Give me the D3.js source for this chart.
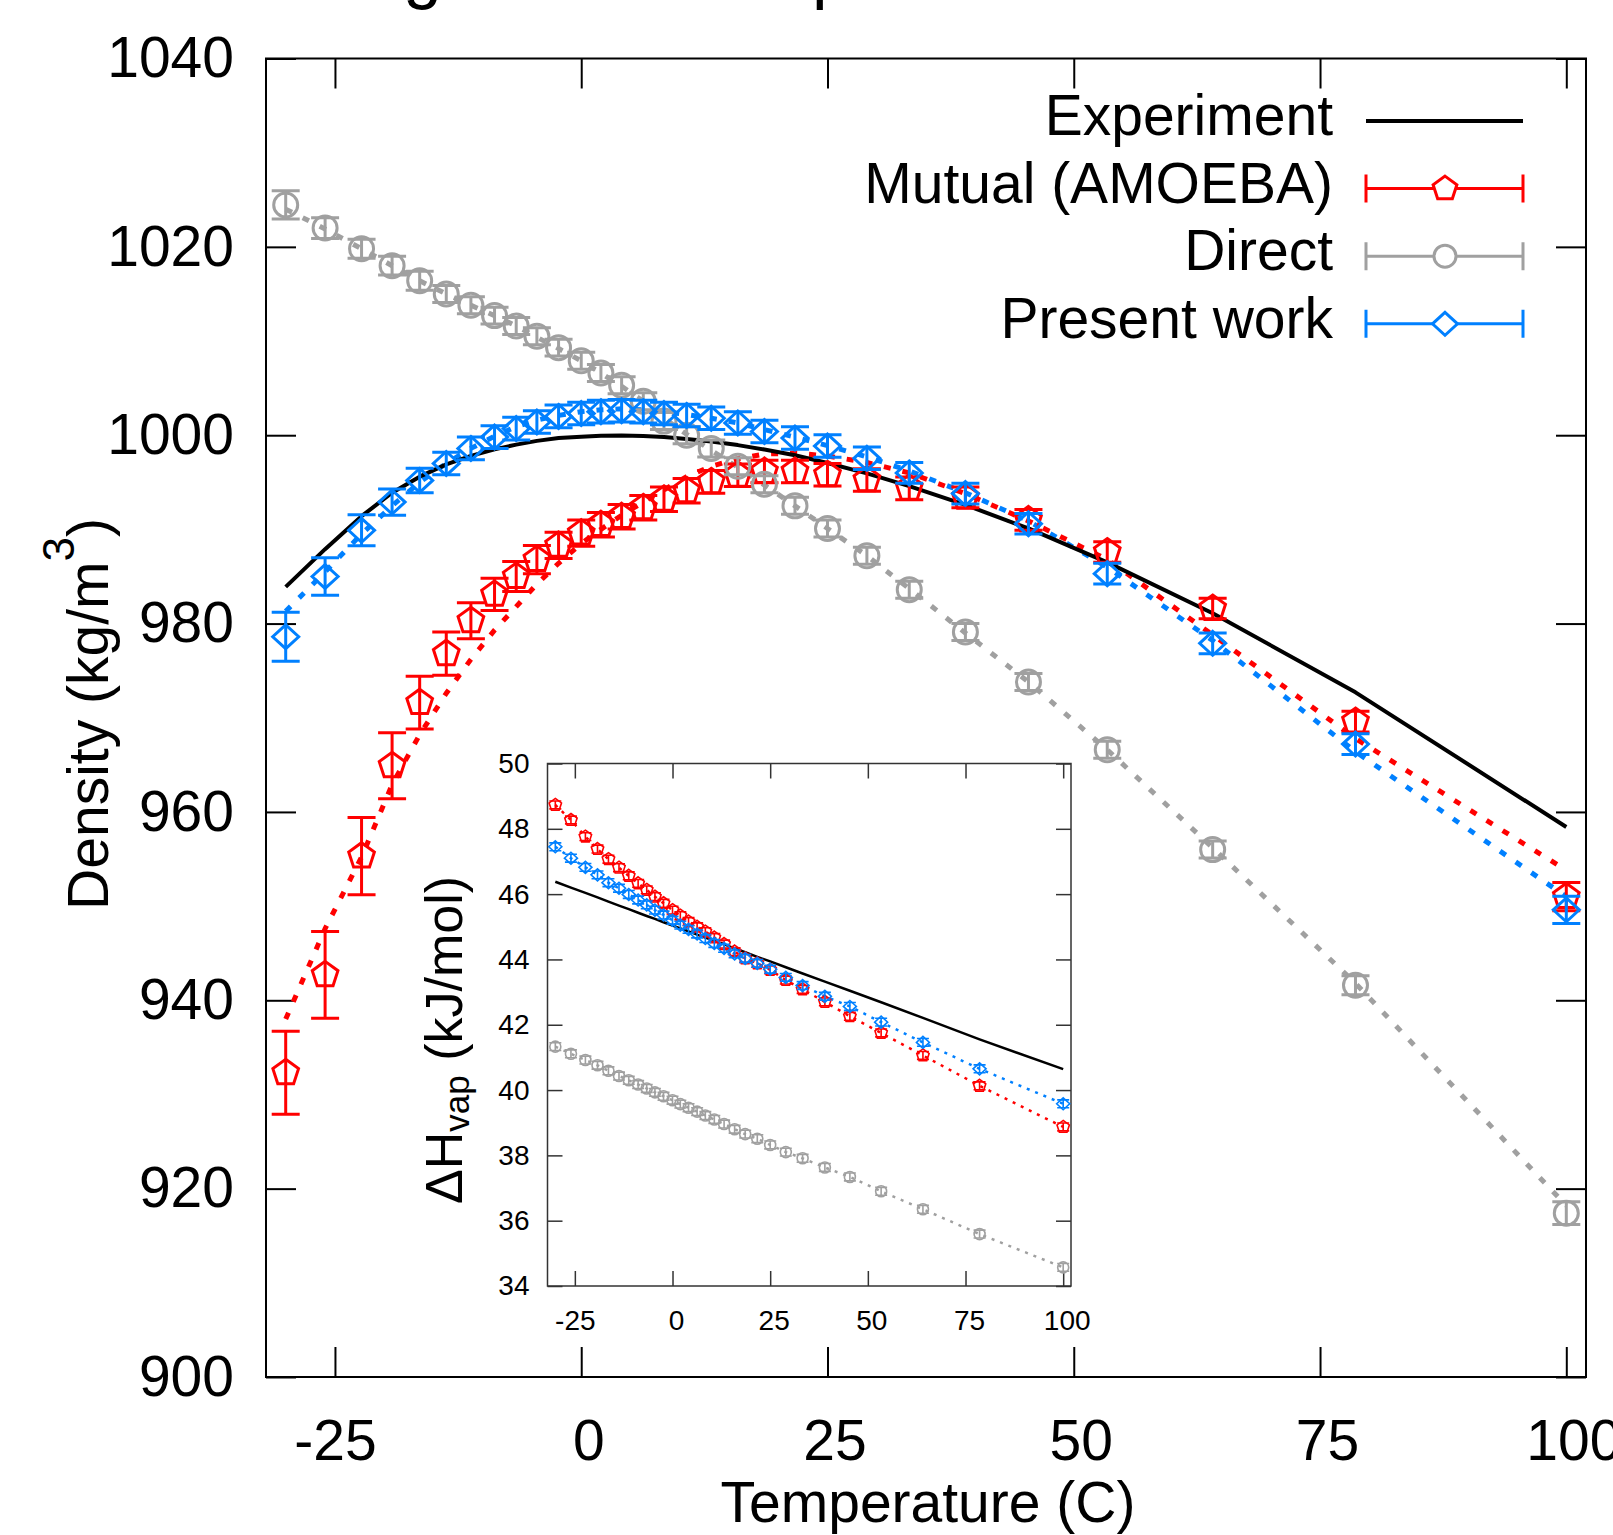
<!DOCTYPE html>
<html>
<head>
<meta charset="utf-8">
<script src="https://cdn.jsdelivr.net/npm/d3@7"></script>
<style>
  body { margin: 0; background: #fff; }
  text { font-family: "Liberation Sans", Arial, Helvetica, sans-serif; }
</style>
</head>
<body>
<div id="chart"></div>
<script>
// simulation temperatures (C)
var temps = [-30, -26, -22.3, -19.2, -16.4, -13.7, -11.2, -8.8, -6.6, -4.5, -2.3, 0, 2, 4.1, 6.3,
             8.4, 10.7, 13.2, 15.9, 18.6, 21.7, 25, 29, 33.3, 39, 45.4, 53.4, 64.1, 78.6, 100];

// density (kg/m3)
var expDensity = [983.9, 987.9, 991.4, 993.9, 995.6, 996.9, 997.8, 998.5, 999.0, 999.4, 999.7, 999.84, 999.94, 999.97, 999.92,
                  999.81, 999.6, 999.33, 998.95, 998.48, 997.87, 997.05, 995.95, 994.6, 992.6, 990.1, 986.5, 981.1, 972.7, 958.4];
var mutualDensity = [932.3, 942.7, 955.3, 964.9, 971.6, 976.8, 980.3, 983.1, 985.0, 986.8, 988.3, 989.6, 990.5, 991.35, 992.3,
                     993.2, 994.1, 995.05, 995.75, 996.15, 996.15, 995.8, 995.25, 994.36, 993.4, 991.0, 987.6, 981.6, 969.6, 951.0];
var mutualErr = [4.4, 4.6, 4.1, 3.5, 2.8, 2.3, 1.9, 1.7, 1.6, 1.5, 1.4, 1.4, 1.3, 1.3, 1.3,
                 1.3, 1.3, 1.2, 1.2, 1.2, 1.2, 1.2, 1.2, 1.2, 1.1, 1.1, 1.1, 1.1, 1.1, 1.5];
var mutualFit = [938.0, 947.6, 955.2, 962.9, 968.2, 972.6, 976.2, 979.3, 981.8, 984.2, 986.4, 988.5, 990.0, 991.5, 992.9,
                 994.2, 995.6, 996.7, 997.5, 998.0, 998.1, 997.8, 997.1, 996.0, 993.8, 990.9, 986.8, 978.8, 967.8, 953.8];
var directDensity = [1024.45, 1022.0, 1019.8, 1018.0, 1016.4, 1015.0, 1013.8, 1012.7, 1011.6, 1010.5, 1009.3, 1007.9, 1006.6, 1005.3, 1003.6,
                     1001.5, 1000.0, 998.6, 996.7, 994.8, 992.5, 990.1, 987.2, 983.6, 979.1, 973.8, 966.6, 956.0, 941.6, 917.4];
var directErr = [1.5, 1.1, 1.0, 1.0, 1.0, 0.9, 0.9, 0.9, 0.9, 0.9, 0.9, 0.9, 0.9, 0.9, 0.9,
                 0.9, 0.9, 0.9, 0.9, 0.9, 0.9, 0.9, 0.9, 0.9, 0.9, 0.9, 0.9, 0.9, 1.0, 1.2];
var directFit = [1024.0, 1021.9, 1019.8, 1018.0, 1016.4, 1015.0, 1013.8, 1012.7, 1011.6, 1010.4, 1009.2, 1007.9, 1006.6, 1005.2, 1003.6,
                 1001.8, 1000.1, 998.4, 996.6, 994.7, 992.5, 990.1, 987.2, 983.7, 979.0, 973.8, 966.6, 956.2, 941.8, 918.2];
var presentDensity = [978.6, 985.0, 989.9, 992.9, 995.2, 997.0, 998.6, 999.8, 1000.7, 1001.4, 1002.0, 1002.3, 1002.5, 1002.6, 1002.5,
                      1002.3, 1002.1, 1001.8, 1001.3, 1000.4, 999.7, 998.85, 997.55, 996.0, 993.8, 990.6, 985.3, 977.9, 967.2, 949.6];
var presentErr = [2.6, 2.0, 1.65, 1.4, 1.3, 1.2, 1.2, 1.2, 1.2, 1.2, 1.2, 1.2, 1.2, 1.2, 1.2,
                  1.2, 1.2, 1.2, 1.2, 1.2, 1.2, 1.2, 1.2, 1.1, 1.1, 1.1, 1.1, 1.1, 1.1, 1.45];
var presentFit = [981.3, 985.5, 989.5, 992.5, 995.0, 997.0, 998.6, 999.9, 1000.9, 1001.6, 1002.1, 1002.5, 1002.7, 1002.8, 1002.7,
                  1002.5, 1002.2, 1001.8, 1001.3, 1000.6, 999.8, 998.9, 997.7, 996.2, 993.9, 990.9, 986.0, 978.2, 966.4, 951.0];

// heat of vaporization (kJ/mol), inset
var expHvap = [46.38, 46.2, 46.04, 45.9, 45.77, 45.65, 45.54, 45.43, 45.33, 45.24, 45.14, 45.04, 44.95, 44.86, 44.76,
               44.67, 44.57, 44.46, 44.34, 44.22, 44.08, 43.94, 43.76, 43.57, 43.32, 43.04, 42.69, 42.21, 41.55, 40.64];
var mutualHvap = [48.73, 48.27, 47.76, 47.38, 47.07, 46.81, 46.56, 46.33, 46.13, 45.92, 45.72, 45.51, 45.34, 45.16, 45.0,
                  44.85, 44.67, 44.47, 44.24, 44.03, 43.88, 43.68, 43.37, 43.08, 42.7, 42.26, 41.75, 41.06, 40.13, 38.87];
var directHvap = [41.33, 41.11, 40.92, 40.76, 40.59, 40.43, 40.3, 40.17, 40.05, 39.93, 39.81, 39.69, 39.57, 39.46, 39.34,
                  39.22, 39.1, 38.96, 38.8, 38.65, 38.51, 38.32, 38.1, 37.91, 37.63, 37.34, 36.9, 36.35, 35.59, 34.57];
var presentHvap = [47.45, 47.1, 46.82, 46.59, 46.35, 46.18, 45.99, 45.82, 45.67, 45.51, 45.36, 45.2, 45.05, 44.92, 44.78,
                   44.64, 44.49, 44.34, 44.17, 44.03, 43.88, 43.7, 43.45, 43.2, 42.87, 42.56, 42.08, 41.46, 40.65, 39.58];
var hvapErr = 0.12;

// ticks
var xTicks = [-25, 0, 25, 50, 75, 100];
var yTicks = [900, 920, 940, 960, 980, 1000, 1020, 1040];
var yTicksInset = [34, 36, 38, 40, 42, 44, 46, 48, 50];

var legendLabels = ["Experiment", "Mutual (AMOEBA)", "Direct", "Present work"];

var red = "#ff0000", blue = "#0080ff", gray = "#a0a0a0";

var svgWidth = 1613;
var svgHeight = 1535;

var svg = d3.select("#chart")
            .append("svg")
            .attr("width", svgWidth)
            .attr("height", svgHeight);

var x = d3.scaleLinear().domain([-32, 102]).range([266, 1586]);
var y = d3.scaleLinear().domain([900, 1040]).range([1377, 58.5]);
var xi = d3.scaleLinear().domain([-32, 102]).range([547.5, 1071]);
var yi = d3.scaleLinear().domain([34, 50]).range([1286, 763.5]);

// title of the figure, cropped at the top edge in the original
svg.append("text").attr("x", 403).attr("y", -5).attr("font-size", 70).text("g");
svg.append("text").attr("x", 812).attr("y", -5).attr("font-size", 70).text("p");

function markerPath(type, r) {
  if (type == "circle") {
    return "M" + (-r) + ",0A" + r + "," + r + " 0 1,0 " + r + ",0A" + r + "," + r + " 0 1,0 " + (-r) + ",0Z";
  }
  if (type == "diamond") {
    return "M0," + (-r * 0.92) + "L" + r + ",0L0," + (r * 0.92) + "L" + (-r) + ",0Z";
  }
  var pts = d3.range(5).map(function(k) {
    var a = -Math.PI / 2 + k * 2 * Math.PI / 5;
    return [r * Math.cos(a), r * Math.sin(a)];
  });
  return "M" + pts.join("L") + "Z";
}

function drawFrame(xs, ys, yt, o) {
  var g = svg.append("g");
  var x0 = xs.range()[0], x1 = xs.range()[1];
  var y0 = ys.range()[0], y1 = ys.range()[1];
  var fmt = function(d) { return String(d); };

  var bottom = g.append("g").attr("transform", "translate(0," + y0 + ")")
    .call(d3.axisBottom(xs).tickValues(xTicks).tickSize(-o.tick).tickPadding(o.padX).tickFormat(fmt));
  var axes = [
    bottom,
    g.append("g").attr("transform", "translate(0," + y1 + ")")
      .call(d3.axisTop(xs).tickValues(xTicks).tickSize(-o.tick).tickFormat("")),
    g.append("g").attr("transform", "translate(" + x0 + ",0)")
      .call(d3.axisLeft(ys).tickValues(yt).tickSize(-o.tick).tickPadding(o.padY).tickFormat(fmt)),
    g.append("g").attr("transform", "translate(" + x1 + ",0)")
      .call(d3.axisRight(ys).tickValues(yt).tickSize(-o.tick).tickFormat(""))
  ];
  axes.forEach(function(a) {
    a.attr("font-family", null).attr("font-size", o.font);
    a.select(".domain").remove();
    a.selectAll("line").attr("stroke", o.color).attr("stroke-width", o.width);
    a.selectAll("text").attr("fill", "#000");
  });
  // labels without a minus sit a little right of their tick in the original
  bottom.selectAll("text").attr("dx", function(d) { return d >= 0 ? o.shift : 0; });

  g.append("rect")
    .attr("x", x0).attr("y", y1)
    .attr("width", x1 - x0).attr("height", y0 - y1)
    .attr("fill", "none")
    .attr("stroke", o.color)
    .attr("stroke-width", o.width);
}

function drawLine(xs, ys, values, color, width, dash) {
  var line = d3.line()
    .x(function(d, i) { return xs(temps[i]); })
    .y(function(d) { return ys(d); });
  svg.append("path")
    .datum(values)
    .attr("d", line)
    .attr("fill", "none")
    .attr("stroke", color)
    .attr("stroke-width", width)
    .attr("stroke-dasharray", dash)
    .attr("stroke-linejoin", "round");
}

function drawPoints(xs, ys, values, errs, color, type, r, cap, width) {
  var g = svg.append("g")
    .attr("fill", "none")
    .attr("stroke", color)
    .attr("stroke-width", width);
  var pts = g.selectAll("g")
    .data(values)
    .enter()
    .append("g")
    .attr("transform", function(d, i) { return "translate(" + xs(temps[i]) + ",0)"; });
  pts.append("path")
    .attr("d", function(d, i) {
      var e = Array.isArray(errs) ? errs[i] : errs;
      var a = ys(d + e), b = ys(d - e);
      return "M" + (-cap) + "," + a + "H" + cap + "M0," + a + "V" + b + "M" + (-cap) + "," + b + "H" + cap;
    });
  pts.append("path")
    .attr("transform", function(d) { return "translate(0," + ys(d) + ")"; })
    .attr("d", markerPath(type, r));
}

// main plot
drawFrame(x, y, yTicks, { tick: 30, padX: 43, padY: 32, font: 57, color: "#000", width: 2, shift: 7 });

drawLine(x, y, mutualFit, red, 5, "7,12");
drawLine(x, y, directFit, gray, 5, "7,12");
drawLine(x, y, presentFit, blue, 5, "7,12");
drawLine(x, y, expDensity, "#000", 4, null);

drawPoints(x, y, mutualDensity, mutualErr, red, "pentagon", 13.5, 14, 3);
drawPoints(x, y, directDensity, directErr, gray, "circle", 12, 14, 3);
drawPoints(x, y, presentDensity, presentErr, blue, "diamond", 13, 14, 3);

// inset
drawFrame(xi, yi, yTicksInset, { tick: 15, padX: 24, padY: 18, font: 28, color: "#333", width: 1.5, shift: 3.5 });

drawLine(xi, yi, mutualHvap, red, 2.5, "3,6");
drawLine(xi, yi, directHvap, gray, 2.5, "3,6");
drawLine(xi, yi, presentHvap, blue, 2.5, "3,6");
drawLine(xi, yi, expHvap, "#000", 2.5, null);

drawPoints(xi, yi, mutualHvap, hvapErr, red, "pentagon", 6.5, 6, 1.6);
drawPoints(xi, yi, directHvap, hvapErr, gray, "circle", 5.5, 6, 1.6);
drawPoints(xi, yi, presentHvap, hvapErr, blue, "diamond", 6.5, 6, 1.6);

// axis titles
svg.append("text")
  .attr("x", 928).attr("y", 1522)
  .attr("text-anchor", "middle")
  .attr("font-size", 57)
  .text("Temperature (C)");

var yTitle = svg.append("text")
  .attr("transform", "translate(108,714) rotate(-90)")
  .attr("text-anchor", "middle")
  .attr("font-size", 57);
yTitle.append("tspan").text("Density (kg/m");
yTitle.append("tspan").attr("font-size", 44).attr("dy", -34).text("3");
yTitle.append("tspan").attr("dy", 34).text(")");

var iTitle = svg.append("text")
  .attr("transform", "translate(462,1040) rotate(-90)")
  .attr("text-anchor", "middle")
  .attr("font-size", 52);
iTitle.append("tspan").text("\u0394H");
iTitle.append("tspan").attr("font-size", 35).attr("dy", 7).text("vap");
iTitle.append("tspan").attr("dy", -7).text(" (kJ/mol)");

// legend
var legendColors = ["#000", red, gray, blue];
var legendTypes = [null, "pentagon", "circle", "diamond"];
var legend = svg.append("g");
legendLabels.forEach(function(label, i) {
  var ly = 121 + i * 67.6;
  legend.append("text")
    .attr("x", 1333).attr("y", ly + 14)
    .attr("text-anchor", "end")
    .attr("font-size", 57)
    .text(label);
  if (legendTypes[i] == null) {
    legend.append("line")
      .attr("x1", 1366).attr("x2", 1523).attr("y1", ly).attr("y2", ly)
      .attr("stroke", "#000").attr("stroke-width", 4);
  } else {
    legend.append("path")
      .attr("d", "M1366," + ly + "H1523M1366," + (ly - 14) + "V" + (ly + 14) + "M1523," + (ly - 14) + "V" + (ly + 14))
      .attr("fill", "none").attr("stroke", legendColors[i]).attr("stroke-width", 3);
    legend.append("path")
      .attr("transform", "translate(1445," + ly + ")")
      .attr("d", markerPath(legendTypes[i], legendTypes[i] == "circle" ? 11 : 12.5))
      .attr("fill", "#fff").attr("stroke", legendColors[i]).attr("stroke-width", 3);
  }
});
</script>
</body>
</html>
